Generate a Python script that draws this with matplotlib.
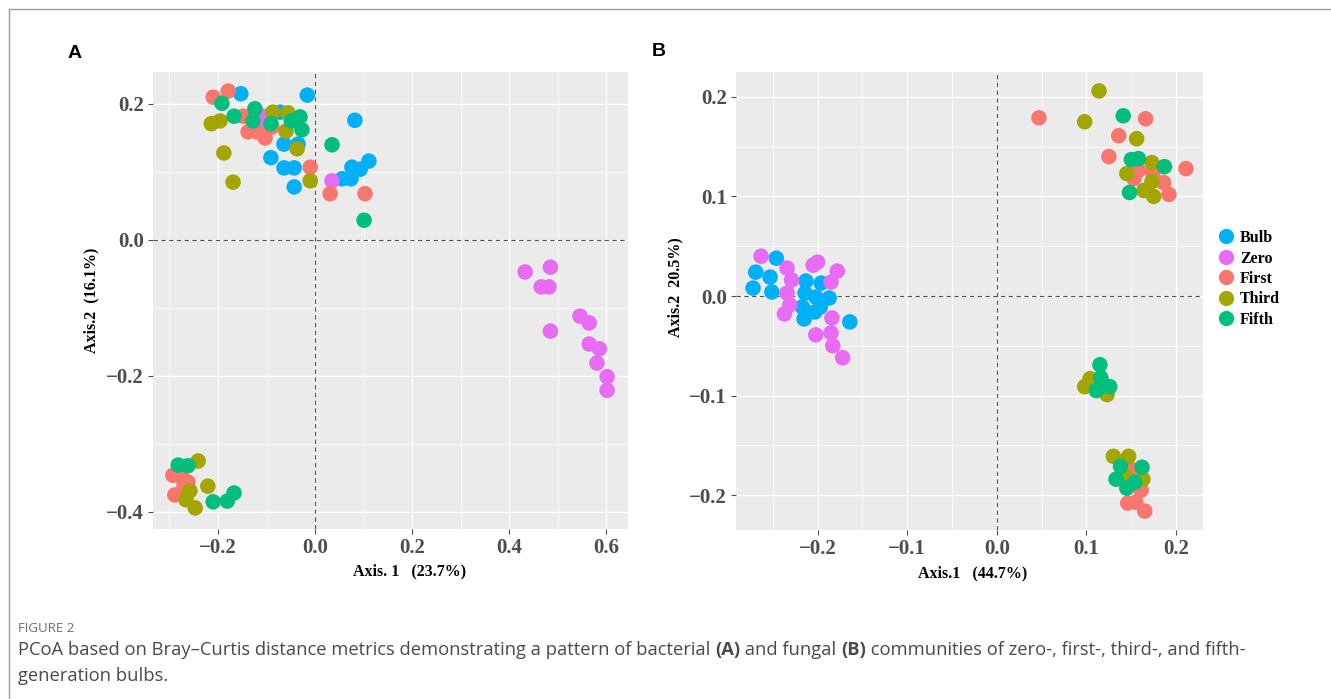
import matplotlib
matplotlib.use("Agg")
import numpy as np
import matplotlib.pyplot as plt
from matplotlib.lines import Line2D

# ---------------- data ----------------
groups = ["Bulb", "Zero", "First", "Third", "Fifth"]
colors = {"Bulb": "#00B0F6", "Zero": "#E76BF3", "First": "#F8766D",
          "Third": "#A3A500", "Fifth": "#00BF7D"}

# Panel A (bacteria)
a_bulb_x = [-0.153, -0.016, -0.072, 0.082, -0.064, -0.035, -0.091, -0.064, -0.043, 0.111, 0.076, 0.093, 0.056, 0.074, -0.043]
a_bulb_y = [0.215, 0.213, 0.188, 0.176, 0.141, 0.141, 0.121, 0.106, 0.106, 0.116, 0.107, 0.104, 0.090, 0.090, 0.078]
a_zero_x = [-0.107, -0.107, 0.035, 0.433, 0.485, 0.466, 0.482, 0.485, 0.546, 0.565, 0.565, 0.586, 0.581, 0.602, 0.602]
a_zero_y = [0.182, 0.166, 0.087, -0.047, -0.040, -0.069, -0.069, -0.134, -0.112, -0.122, -0.153, -0.160, -0.181, -0.201, -0.221]
a_first_x = [-0.210, -0.179, -0.148, -0.089, -0.138, -0.120, -0.103, -0.010, 0.031, 0.103, -0.293, -0.274, -0.262, -0.289, -0.270]
a_first_y = [0.210, 0.219, 0.182, 0.166, 0.159, 0.159, 0.150, 0.107, 0.068, 0.068, -0.346, -0.350, -0.356, -0.375, -0.362]
a_third_x = [-0.087, -0.056, -0.214, -0.196, -0.060, -0.037, -0.188, -0.010, -0.169, -0.241, -0.221, -0.258, -0.266, -0.247]
a_third_y = [0.188, 0.187, 0.171, 0.175, 0.160, 0.134, 0.128, 0.087, 0.085, -0.325, -0.362, -0.369, -0.382, -0.394]
a_fifth_x = [-0.192, -0.124, -0.031, -0.167, -0.128, -0.091, -0.049, -0.027, 0.035, 0.101, -0.282, -0.262, -0.210, -0.181, -0.167]
a_fifth_y = [0.201, 0.193, 0.181, 0.182, 0.175, 0.171, 0.175, 0.162, 0.140, 0.029, -0.331, -0.332, -0.385, -0.384, -0.372]

# Panel B (fungi)
b_bulb_x = [-0.246, -0.269, -0.253, -0.272, -0.251, -0.213, -0.196, -0.214, -0.202, -0.187, -0.217, -0.197, -0.203, -0.215, -0.164]
b_bulb_y = [0.038, 0.024, 0.019, 0.008, 0.004, 0.015, 0.013, 0.003, -0.001, -0.002, -0.011, -0.011, -0.016, -0.023, -0.026]
b_zero_x = [-0.263, -0.234, -0.229, -0.205, -0.200, -0.178, -0.185, -0.234, -0.231, -0.237, -0.184, -0.202, -0.185, -0.183, -0.172]
b_zero_y = [0.040, 0.028, 0.016, 0.031, 0.034, 0.025, 0.014, 0.003, -0.009, -0.018, -0.022, -0.039, -0.037, -0.050, -0.062]
b_first_x = [0.047, 0.166, 0.136, 0.125, 0.158, 0.174, 0.211, 0.153, 0.186, 0.192, 0.150, 0.161, 0.146, 0.155, 0.165]
b_first_y = [0.179, 0.178, 0.161, 0.140, 0.126, 0.124, 0.128, 0.118, 0.114, 0.102, -0.174, -0.195, -0.208, -0.207, -0.216]
b_third_x = [0.114, 0.098, 0.156, 0.173, 0.145, 0.173, 0.164, 0.175, 0.104, 0.098, 0.123, 0.130, 0.147, 0.145, 0.163]
b_third_y = [0.206, 0.175, 0.158, 0.134, 0.123, 0.115, 0.106, 0.100, -0.083, -0.091, -0.099, -0.161, -0.161, -0.182, -0.184]
b_fifth_x = [0.141, 0.150, 0.158, 0.187, 0.148, 0.115, 0.116, 0.111, 0.126, 0.117, 0.138, 0.162, 0.133, 0.154, 0.145]
b_fifth_y = [0.181, 0.137, 0.138, 0.130, 0.104, -0.069, -0.082, -0.095, -0.091, -0.091, -0.171, -0.172, -0.184, -0.187, -0.193]

a_xticks = [-0.2, 0.0, 0.2, 0.4, 0.6]
a_yticks = [-0.4, -0.2, 0.0, 0.2]
b_xticks = [-0.2, -0.1, 0.0, 0.1, 0.2]
b_yticks = [-0.2, -0.1, 0.0, 0.1, 0.2]

panel_a = {"Bulb": (a_bulb_x, a_bulb_y), "Zero": (a_zero_x, a_zero_y),
           "First": (a_first_x, a_first_y), "Third": (a_third_x, a_third_y),
           "Fifth": (a_fifth_x, a_fifth_y)}
panel_b = {"Bulb": (b_bulb_x, b_bulb_y), "Zero": (b_zero_x, b_zero_y),
           "First": (b_first_x, b_first_y), "Third": (b_third_x, b_third_y),
           "Fifth": (b_fifth_x, b_fifth_y)}

# ---------------- figure ----------------
W, H = 1331, 699
fig = plt.figure(figsize=(W / 100, H / 100), dpi=100)
fig.patch.set_facecolor("white")

def fbox(l, t, r, b):
    return [l / W, 1 - b / H, (r - l) / W, (b - t) / H]

serif = "Liberation Serif"

def style_axes(ax, xlim, ylim, xticks, yticks, xlabel, ylabel):
    ax.set_facecolor("#EBEBEB")
    for s in ax.spines.values():
        s.set_visible(False)
    ax.set_xticks(xticks)
    ax.set_yticks(yticks)
    step_x = xticks[1] - xticks[0]
    step_y = yticks[1] - yticks[0]
    mx = np.arange(xticks[0] - step_x * 1.5, xticks[-1] + step_x, step_x)
    my = np.arange(yticks[0] - step_y * 1.5, yticks[-1] + step_y, step_y)
    ax.set_xticks(mx, minor=True)
    ax.set_yticks(my, minor=True)
    ax.set_xlim(*xlim)
    ax.set_ylim(*ylim)
    ax.tick_params(which="minor", length=0)
    ax.tick_params(which="major", length=3.5, width=0.8, color="#4D4D4D",
                   labelcolor="#4D4D4D", labelsize=15, pad=3)
    ax.set_xticklabels([f"{v:.1f}".replace("-", "\u2212") for v in xticks],
                       fontfamily=serif, fontweight="bold")
    ax.set_yticklabels([f"{v:.1f}".replace("-", "\u2212") for v in yticks],
                       fontfamily=serif, fontweight="bold")
    ax.grid(which="major", color="white", linewidth=1.0)
    ax.grid(which="minor", color="white", linewidth=0.5)
    ax.set_axisbelow(True)
    ax.axhline(0, color="#555555", linestyle=(0, (4, 3)), linewidth=0.8, zorder=1.5)
    ax.axvline(0, color="#555555", linestyle=(0, (4, 3)), linewidth=0.8, zorder=1.5)
    ax.set_xlabel(xlabel, fontfamily=serif, fontweight="bold", fontsize=11.5,
                  labelpad=8)
    ax.set_ylabel(ylabel, fontfamily=serif, fontweight="bold", fontsize=11.5,
                  labelpad=5)

axA = fig.add_axes(fbox(153, 72, 628, 529))
axB = fig.add_axes(fbox(736, 72, 1203, 530))

for ax, data in ((axA, panel_a), (axB, panel_b)):
    for g in groups:
        xs, ys = data[g]
        ax.scatter(xs, ys, s=125, color=colors[g], edgecolors="none", zorder=3,
                   label=g)

style_axes(axA, (-0.334, 0.645), (-0.425, 0.247), a_xticks, a_yticks,
           "Axis. 1   (23.7%)", "Axis.2  (16.1%)")
style_axes(axB, (-0.291, 0.230), (-0.235, 0.225), b_xticks, b_yticks,
           "Axis.1   (44.7%)", "Axis.2  20.5%)")

# label position tweaks (as in the reference)
axA.xaxis.set_label_coords(0.541, -0.075)
axB.xaxis.set_label_coords(0.506, -0.077)
axB.yaxis.set_label_coords(-0.112, 0.53)

handles = [Line2D([], [], marker="o", linestyle="none", markersize=11,
                  markerfacecolor=colors[g], markeredgecolor="none") for g in groups]
fig.legend(handles, groups, loc="center left",
           bbox_to_anchor=(1208 / W, 1 - 279 / H), frameon=False,
           prop={"family": serif, "weight": "bold", "size": 11.5},
           handletextpad=0.1, labelspacing=0.28, handlelength=1.5,
           borderaxespad=0)

# panel letters
fig.text(68 / W, 1 - 53 / H, "A", fontfamily="Liberation Sans",
         fontweight="bold", fontsize=14, va="center", ha="left")
fig.text(652 / W, 1 - 52 / H, "B", fontfamily="Liberation Sans",
         fontweight="bold", fontsize=14, va="center", ha="left")

# frame lines
fig.add_artist(Line2D([9 / W, 9 / W], [0, 1 - 8.5 / H], transform=fig.transFigure,
                      color="#9A9A9A", linewidth=1.0))
fig.add_artist(Line2D([9 / W, 1], [1 - 8.5 / H, 1 - 8.5 / H], transform=fig.transFigure,
                      color="#9A9A9A", linewidth=1.0))

# caption
cap_font = "Open Sans"
fig.text(18 / W, 1 - 628 / H, "FIGURE 2", fontfamily=cap_font, fontsize=9.5,
         color="#6D6D6D", va="center", ha="left")

fig.canvas.draw()
renderer = fig.canvas.get_renderer()

def rich_line(x_px, y_px, pieces, size):
    x = x_px
    for txt, bold in pieces:
        t = fig.text(x / W, 1 - y_px / H, txt, fontfamily=cap_font, fontsize=size,
                     fontweight="bold" if bold else "normal", color="#4A4A4A",
                     va="center", ha="left")
        bb = t.get_window_extent(renderer=renderer)
        x += bb.width

cap_size = 13.2
rich_line(18, 650, [("PCoA based on Bray\u2013Curtis distance metrics demonstrating a pattern of bacterial ", False),
                    ("(A)", True), (" and fungal ", False), ("(B)", True),
                    (" communities of zero-, first-, third-, and fifth-", False)], cap_size)
rich_line(18, 676, [("generation bulbs.", False)], cap_size)

fig.savefig("out.png", dpi=100, facecolor="white")
